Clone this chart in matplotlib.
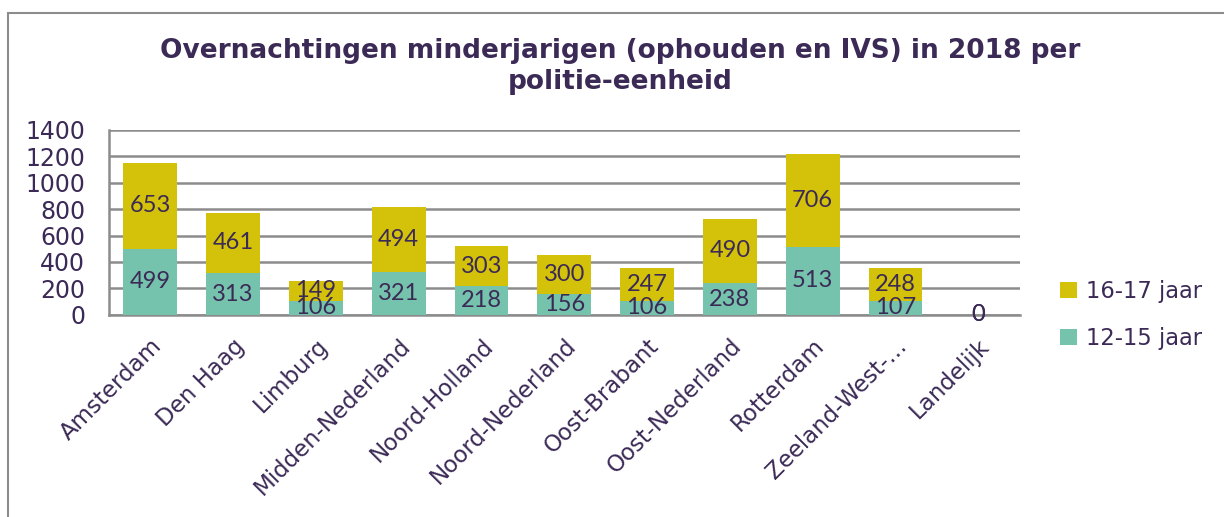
import numpy as np
import matplotlib.pyplot as plt
from matplotlib.patches import Rectangle

# data
regios = ['Amsterdam', 'Den Haag', 'Limburg', 'Midden-Nederland', 'Noord-Holland',
          'Noord-Nederland', 'Oost-Brabant', 'Oost-Nederland', 'Rotterdam',
          'Zeeland-West-…', 'Landelijk']
jong = [499, 313, 106, 321, 218, 156, 106, 238, 513, 107, 0]   # 12-15 jaar
oud = [653, 461, 149, 494, 303, 300, 247, 490, 706, 248, 0]    # 16-17 jaar

paars = '#3b2a56'
geel = '#d4c20a'
groen = '#76c3ad'

fig = plt.figure(figsize=(12.24, 5.17), dpi=100)
ax = fig.add_axes([0.089, 0.391, 0.744, 0.358])

# rand om de grafiek (loopt rechts en onder buiten beeld)
fig.patches.append(Rectangle((0.0065, -0.1), 1.1, 1.0755, transform=fig.transFigure,
                             fill=False, edgecolor='#8c8c8c', linewidth=1.5))

x = np.arange(len(regios))
b1 = ax.bar(x, jong, width=0.65, color=groen, label='12-15 jaar', zorder=3)
b2 = ax.bar(x, oud, width=0.65, bottom=jong, color=geel, label='16-17 jaar', zorder=3)

for i in range(len(regios)):
    ax.text(x[i], jong[i] / 2, str(jong[i]), ha='center', va='center',
            fontsize=17, color=paars, family='Lato', zorder=4)
    ax.text(x[i], jong[i] + oud[i] / 2, str(oud[i]), ha='center', va='center',
            fontsize=17, color=paars, family='Lato', zorder=4)

ax.set_xlim(-0.5, len(regios) - 0.5)
ax.set_ylim(0, 1400)
ax.set_yticks(np.arange(0, 1401, 200))
ax.grid(axis='y', color='#8c8c8c', linewidth=1.8, zorder=0)
for s in ['top', 'right']:
    ax.spines[s].set_visible(False)
ax.spines['left'].set_color('#8c8c8c')
ax.spines['bottom'].set_color('#8c8c8c')
ax.spines['left'].set_linewidth(1.8)
ax.spines['bottom'].set_linewidth(1.8)
ax.tick_params(axis='both', length=0, colors=paars)
ax.tick_params(axis='y', pad=17, labelsize=17)
ax.tick_params(axis='x', pad=14)
ax.set_xticks(x)
ax.set_xticklabels(regios, rotation=45, ha='right', rotation_mode='anchor', fontsize=16.5)

fig.text(0.507, 0.871, 'Overnachtingen minderjarigen (ophouden en IVS) in 2018 per\npolitie-eenheid',
         ha='center', va='center', fontsize=19, fontweight='bold', color=paars, linespacing=1.25)

handles = [b2, b1]
leg = ax.legend(handles, ['16-17 jaar', '12-15 jaar'], loc='center left',
                bbox_to_anchor=(1.022, 0.0), frameon=False, fontsize=16.3,
                handlelength=0.75, handleheight=0.75, labelspacing=1.05, handletextpad=0.4)
for t in leg.get_texts():
    t.set_color(paars)

fig.savefig('out.png', dpi=100)
